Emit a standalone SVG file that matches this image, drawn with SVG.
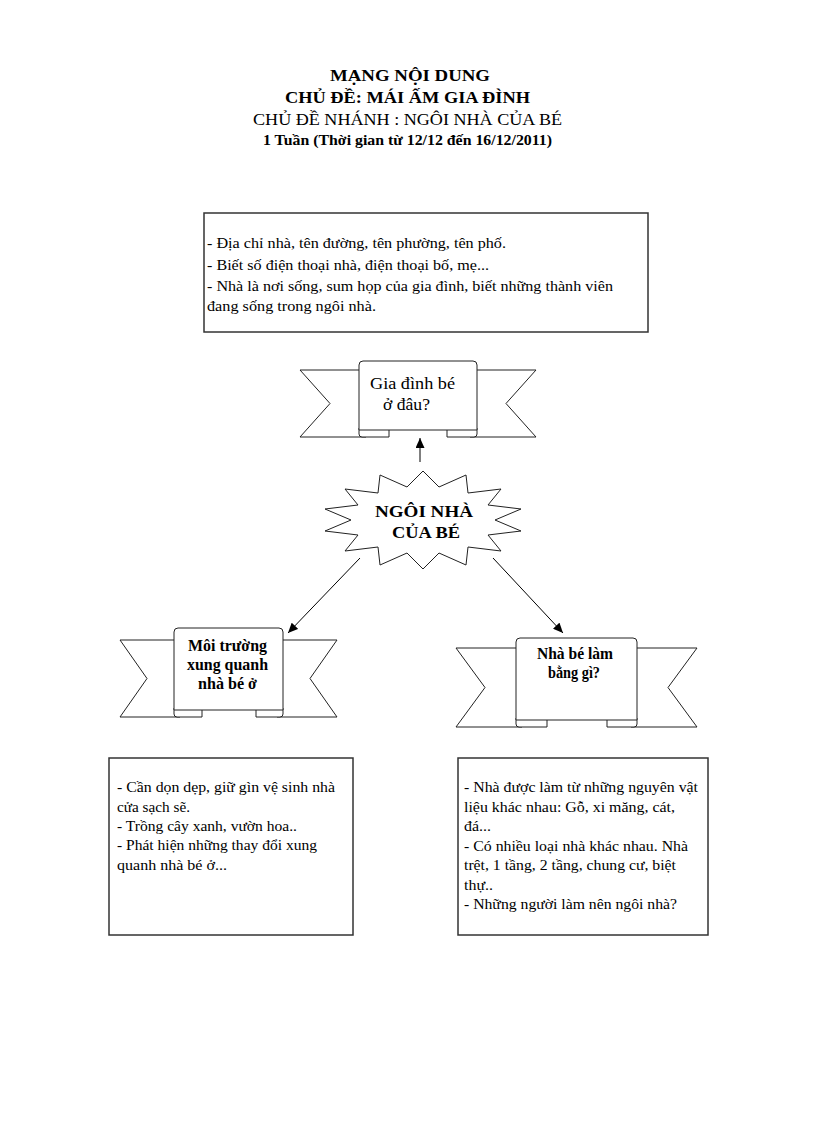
<svg xmlns="http://www.w3.org/2000/svg" width="816" height="1123" viewBox="0 0 816 1123">
<style>
  .t{font-family:"Liberation Serif","Times New Roman",serif;fill:#000}
  .b{font-weight:bold}
  .body{font-size:14px}
  .box{fill:#fff;stroke:#333;stroke-width:1.5}
  .rib{fill:#fff;stroke:#222;stroke-width:1}
  .conn{stroke:#000;stroke-width:1;fill:none}
</style>
<defs>
  <marker id="ah" markerUnits="userSpaceOnUse" markerWidth="10" markerHeight="9" refX="10" refY="4.5" orient="auto">
    <path d="M0,0 L10,4.5 L0,9 Z" fill="#000"/>
  </marker>
</defs>
<rect width="816" height="1123" fill="#fff"/>

<g id="title">
  <text class="t b" x="330" y="81" font-size="16" textLength="160" lengthAdjust="spacingAndGlyphs">MẠNG NỘI DUNG</text>
  <text class="t b" x="285" y="103" font-size="16" textLength="245" lengthAdjust="spacingAndGlyphs">CHỦ ĐỀ: MÁI ẤM GIA ĐÌNH</text>
  <text class="t" x="253" y="125" font-size="16" textLength="309" lengthAdjust="spacingAndGlyphs">CHỦ ĐỀ NHÁNH : NGÔI NHÀ CỦA BÉ</text>
  <text class="t b" x="263" y="145" font-size="15" textLength="289" lengthAdjust="spacingAndGlyphs">1 Tuần (Thời gian từ 12/12 đến 16/12/2011)</text>
</g>

<g id="box-top">
  <rect class="box" x="204" y="213" width="444" height="119"/>
  <text class="t body" x="207" y="248" textLength="299" lengthAdjust="spacingAndGlyphs">- Địa chỉ nhà, tên đường, tên phường, tên phố.</text>
  <text class="t body" x="207" y="270" textLength="282" lengthAdjust="spacingAndGlyphs">- Biết số điện thoại nhà, điện thoại bố, mẹ...</text>
  <text class="t body" x="207" y="291" textLength="406" lengthAdjust="spacingAndGlyphs">- Nhà là nơi sống, sum họp của gia đình, biết những thành viên</text>
  <text class="t body" x="207" y="311" textLength="169" lengthAdjust="spacingAndGlyphs">đang sống trong ngôi nhà.</text>
</g>

<g id="ribbon-top">
  <path class="rib" d="M300,370 L366,370 L366,437 L300,437 L330,403.5 Z"/>
  <path class="rib" d="M470,370 L536,370 L506,403.5 L536,437 L470,437 Z"/>
  <path class="rib" d="M359,428 L359,434 Q359,437 362,437 L389,437 L389,430"/>
  <path class="rib" d="M477,428 L477,434 Q477,437 474,437 L447,437 L447,430"/>
  <path class="rib" d="M359,430 L359,365 Q359,361 363,361 L473,361 Q477,361 477,365 L477,430 Z"/>
  <text class="t" x="370" y="389" font-size="17" textLength="85" lengthAdjust="spacingAndGlyphs">Gia đình bé</text>
  <text class="t" x="383" y="410" font-size="17" textLength="47" lengthAdjust="spacingAndGlyphs">ở đâu?</text>
</g>

<g id="center-star">
  <polygon class="rib" points="423,471 439,487 466,475 468,493 501,489 488,505 521,509 495,520 521,531 488,535 501,551 468,547 466,565 439,553 423,569 407,553 380,565 378,547 345,551 358,535 325,531 351,520 325,509 358,505 345,489 378,493 380,475 407,487"/>
  <text class="t b" x="375" y="517" font-size="17" textLength="98" lengthAdjust="spacingAndGlyphs">NGÔI NHÀ</text>
  <text class="t b" x="392" y="538" font-size="17" textLength="68" lengthAdjust="spacingAndGlyphs">CỦA BÉ</text>
</g>

<g id="ribbon-left">
  <path class="rib" d="M120,640 L180,640 L180,717 L120,717 L147,678.5 Z"/>
  <path class="rib" d="M277,640 L337,640 L310,678.5 L337,717 L277,717 Z"/>
  <path class="rib" d="M174,708 L174,714 Q174,717 177,717 L202,717 L202,710"/>
  <path class="rib" d="M283,708 L283,714 Q283,717 280,717 L256,717 L256,710"/>
  <path class="rib" d="M174,710 L174,632 Q174,628 178,628 L279,628 Q283,628 283,632 L283,710 Z"/>
  <text class="t b" x="188" y="651" font-size="16" textLength="79" lengthAdjust="spacingAndGlyphs">Môi trường</text>
  <text class="t b" x="187" y="670" font-size="16" textLength="81" lengthAdjust="spacingAndGlyphs">xung quanh</text>
  <text class="t b" x="198" y="689" font-size="16" textLength="59" lengthAdjust="spacingAndGlyphs">nhà bé ở</text>
</g>

<g id="ribbon-right">
  <path class="rib" d="M456,648 L522,648 L522,727 L456,727 L485,687.5 Z"/>
  <path class="rib" d="M631,648 L697,648 L668,687.5 L697,727 L631,727 Z"/>
  <path class="rib" d="M516,718 L516,724 Q516,727 519,727 L547,727 L547,720"/>
  <path class="rib" d="M637,718 L637,724 Q637,727 634,727 L607,727 L607,720"/>
  <path class="rib" d="M516,720 L516,642 Q516,638 520,638 L633,638 Q637,638 637,642 L637,720 Z"/>
  <text class="t b" x="537" y="659" font-size="16" textLength="76" lengthAdjust="spacingAndGlyphs">Nhà bé làm</text>
  <text class="t b" x="548" y="678" font-size="16" textLength="52" lengthAdjust="spacingAndGlyphs">bằng gì?</text>
</g>

<g id="box-left">
  <rect class="box" x="109" y="758" width="244" height="177"/>
  <text class="t body" x="117" y="792" textLength="218" lengthAdjust="spacingAndGlyphs">- Cần dọn dẹp, giữ gìn vệ sinh nhà</text>
  <text class="t body" x="117" y="812" textLength="73" lengthAdjust="spacingAndGlyphs">cửa sạch sẽ.</text>
  <text class="t body" x="117" y="831" textLength="180" lengthAdjust="spacingAndGlyphs">- Trồng cây xanh, vườn hoa..</text>
  <text class="t body" x="117" y="850" textLength="200" lengthAdjust="spacingAndGlyphs">- Phát hiện những thay đổi xung</text>
  <text class="t body" x="117" y="870" textLength="110" lengthAdjust="spacingAndGlyphs">quanh nhà bé ở...</text>
</g>

<g id="box-right">
  <rect class="box" x="458" y="758" width="250" height="177"/>
  <text class="t body" x="464" y="792" textLength="234" lengthAdjust="spacingAndGlyphs">- Nhà được làm từ những nguyên  vật</text>
  <text class="t body" x="464" y="812" textLength="211" lengthAdjust="spacingAndGlyphs">liệu khác nhau: Gỗ, xi măng, cát,</text>
  <text class="t body" x="464" y="831" textLength="27" lengthAdjust="spacingAndGlyphs">đá...</text>
  <text class="t body" x="464" y="851" textLength="224" lengthAdjust="spacingAndGlyphs">- Có nhiều loại nhà khác nhau. Nhà</text>
  <text class="t body" x="464" y="870" textLength="212" lengthAdjust="spacingAndGlyphs">trệt, 1 tầng, 2 tầng, chung cư, biệt</text>
  <text class="t body" x="464" y="890" textLength="29" lengthAdjust="spacingAndGlyphs">thự..</text>
  <text class="t body" x="464" y="909" textLength="213" lengthAdjust="spacingAndGlyphs">- Những người làm nên ngôi nhà?</text>
</g>

<g id="connectors">
  <line class="conn" x1="420" y1="462" x2="420" y2="438" marker-end="url(#ah)"/>
  <line class="conn" x1="360" y1="558" x2="288" y2="633" marker-end="url(#ah)"/>
  <line class="conn" x1="493" y1="558" x2="563" y2="633" marker-end="url(#ah)"/>
</g>
</svg>
